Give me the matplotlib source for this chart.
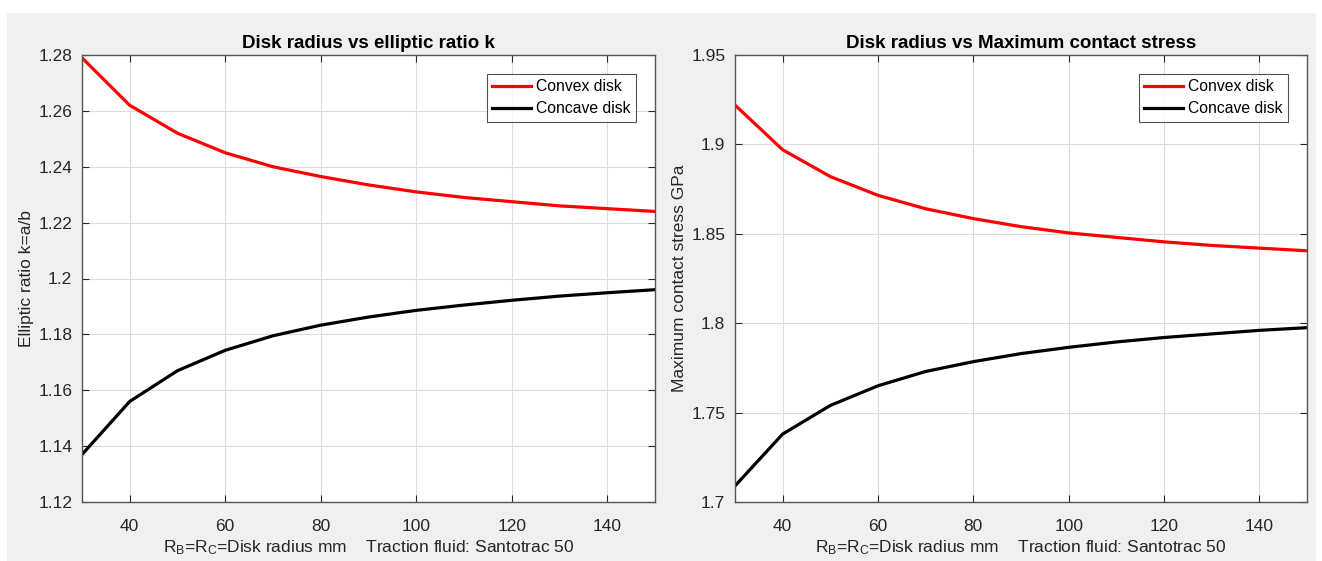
import numpy as np
import matplotlib.pyplot as plt
from matplotlib.patches import Rectangle
from matplotlib.ticker import FormatStrFormatter

plt.rcParams['font.family'] = ['Liberation Sans', 'DejaVu Sans']
plt.rcParams['mathtext.default'] = 'regular'

# disk radius mm
radius = [30, 40, 50, 60, 70, 80, 90, 100, 110, 120, 130, 140, 150]

# elliptic ratio k=a/b
k_convex = [1.279, 1.262, 1.252, 1.245, 1.240, 1.2365, 1.2335, 1.231, 1.229, 1.2275, 1.226, 1.225, 1.224]
k_concave = [1.137, 1.156, 1.167, 1.1743, 1.1795, 1.1833, 1.1862, 1.1886, 1.1905, 1.1922, 1.1937, 1.1949, 1.196]

# max contact stress GPa
s_convex = [1.922, 1.897, 1.882, 1.8715, 1.864, 1.8585, 1.854, 1.8505, 1.848, 1.8455, 1.8435, 1.842, 1.8405]
s_concave = [1.709, 1.738, 1.754, 1.765, 1.773, 1.7785, 1.783, 1.7865, 1.7895, 1.792, 1.794, 1.796, 1.7975]

W, H = 1322, 561
fig = plt.figure(figsize=(W/100, H/100), dpi=100)
fig.patch.set_facecolor('white')
# matlab grey figure panel
fig.patches.append(Rectangle((7/W, 0), (1316-7)/W, (H-13)/H, transform=fig.transFigure,
                             facecolor='#f0f0f0', edgecolor='none', zorder=-10))

txt = '#262626'
xlab = 'R$_B$=R$_C$=Disk radius mm    Traction fluid: Santotrac 50'

def setup(ax, ylo, yhi, ystep, title, ylabel):
  ax.set_xlim(30, 150)
  ax.set_ylim(ylo, yhi)
  ax.set_xticks(np.arange(40, 141, 20))
  ax.set_yticks(np.arange(ylo, yhi + ystep/2, ystep))
  ax.yaxis.set_major_formatter(FormatStrFormatter('%g'))
  ax.grid(True, color='#dcdcdc', lw=0.8)
  ax.set_axisbelow(True)
  ax.tick_params(direction='in', length=5, width=0.8, top=True, right=True,
                 colors=txt, labelsize=12.5, pad=7)
  ax.tick_params(axis='x', pad=12)
  for s in ax.spines.values():
    s.set_color('#555555')
    s.set_linewidth(1.0)
  ax.set_title(title, fontsize=13.5, fontweight='bold', color='black', pad=5)
  ax.set_xlabel(xlab, fontsize=12.5, color=txt, labelpad=3)
  ax.set_ylabel(ylabel, fontsize=12.5, color=txt, labelpad=3)
  leg = ax.legend(loc='upper right', fontsize=11.3, frameon=True, fancybox=False,
                  borderaxespad=1.2, handlelength=2.5, handletextpad=0.3,
                  borderpad=0.35, labelspacing=0.45)
  leg.get_frame().set_edgecolor('#262626')
  leg.get_frame().set_linewidth(0.8)

ax1 = fig.add_axes([82/W, 1 - 502/H, (655-82)/W, (502-55)/H])
ax1.plot(radius, k_convex, color='#ff0000', lw=2.3, label='Convex disk')
ax1.plot(radius, k_concave, color='black', lw=2.3, label='Concave disk')
setup(ax1, 1.12, 1.28, 0.02, 'Disk radius vs elliptic ratio k', 'Elliptic ratio k=a/b')

ax2 = fig.add_axes([735/W, 1 - 502/H, (1307-735)/W, (502-55)/H])
ax2.plot(radius, s_convex, color='#ff0000', lw=2.3, label='Convex disk')
ax2.plot(radius, s_concave, color='black', lw=2.3, label='Concave disk')
setup(ax2, 1.7, 1.95, 0.05, 'Disk radius vs Maximum contact stress', 'Maximum contact stress GPa')

fig.savefig('out.png', dpi=100)
